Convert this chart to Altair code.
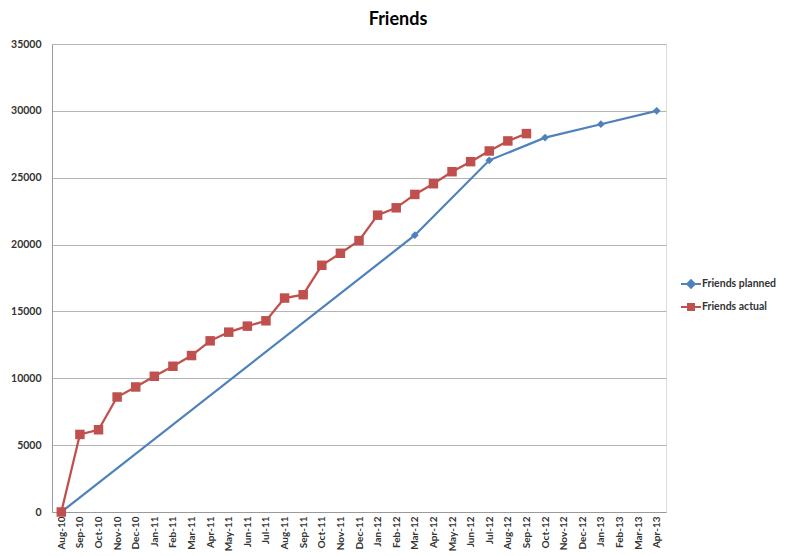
import altair as alt
import pandas as pd

months = ["Aug-10", "Sep-10", "Oct-10", "Nov-10", "Dec-10",
          "Jan-11", "Feb-11", "Mar-11", "Apr-11", "May-11", "Jun-11", "Jul-11",
          "Aug-11", "Sep-11", "Oct-11", "Nov-11", "Dec-11",
          "Jan-12", "Feb-12", "Mar-12", "Apr-12", "May-12", "Jun-12", "Jul-12",
          "Aug-12", "Sep-12", "Oct-12", "Nov-12", "Dec-12",
          "Jan-13", "Feb-13", "Mar-13", "Apr-13"]

planned_months = ["Aug-10", "Mar-12", "Jul-12", "Oct-12", "Jan-13", "Apr-13"]
planned_values = [0, 20700, 26300, 28000, 29000, 30000]

actual_months = months[:26]
actual_values = [0, 5800, 6150, 8600, 9350, 10150, 10900, 11700, 12800, 13450,
                 13900, 14300, 16000, 16250, 18450, 19350, 20300, 22200, 22750,
                 23750, 24550, 25450, 26200, 27000, 27750, 28300]

series_names = ["Friends planned", "Friends actual"]
series_colors = ["#4F81BD", "#C0504D"]
legend_shapes = ["M-2,0H2M0,-0.75L0.75,0L0,0.75L-0.75,0Z",
                 "M-2,0H2M-0.6,-0.6H0.6V0.6H-0.6Z"]

df = pd.concat([
    pd.DataFrame({"series": series_names[0], "month": planned_months, "value": planned_values}),
    pd.DataFrame({"series": series_names[1], "month": actual_months, "value": actual_values}),
], ignore_index=True)

FONT = "Lato"

x_enc = alt.X("month:O", sort=months,
              scale=alt.Scale(type="point", padding=0.5, domain=months),
              axis=alt.Axis(title=None, labelAngle=-90, ticks=False, grid=False,
                            domainColor="#9a9a9a", labelPadding=4,
                            labelFontSize=10, labelFont=FONT, labelFontWeight="bold",
                            labelColor="#333333"))
y_enc = alt.Y("value:Q",
              scale=alt.Scale(domain=[0, 35000], nice=False),
              axis=alt.Axis(title=None, values=list(range(0, 35001, 5000)), format="d",
                            ticks=False, grid=True, gridColor="#b4b4b4",
                            domainColor="#9a9a9a", labelPadding=11,
                            labelFontSize=10.5, labelFont=FONT, labelFontWeight="bold",
                            labelColor="#333333"))

base = alt.Chart(df)

def series_layers(name, color, shape, size):
    sub = base.transform_filter(alt.datum.series == name)
    line = sub.mark_line(color=color, strokeWidth=2.25).encode(x=x_enc, y=y_enc)
    pts = sub.mark_point(color=color, filled=True, opacity=1, shape=shape, size=size).encode(x=x_enc, y=y_enc)
    return line, pts

l1, p1 = series_layers(series_names[0], series_colors[0], "diamond", 60)
l2, p2 = series_layers(series_names[1], series_colors[1], "square", 90)

leg_kw = dict(title=None, orient="none", legendX=633, legendY=234)
legend_layer = base.mark_point(filled=True, size=0, strokeWidth=0, opacity=1,
                               fillOpacity=1, strokeOpacity=1).encode(
    x=x_enc, y=y_enc,
    color=alt.Color("series:N",
                    scale=alt.Scale(domain=series_names, range=series_colors),
                    legend=alt.Legend(symbolSize=100, symbolStrokeWidth=2, symbolOpacity=1,
                                      labelOffset=5, rowPadding=8, padding=0,
                                      labelFontSize=10.5, labelFont=FONT,
                                      labelFontWeight="bold", labelColor="#333333",
                                      **leg_kw)),
    stroke=alt.Stroke("series:N",
                      scale=alt.Scale(domain=series_names, range=series_colors),
                      legend=alt.Legend(**leg_kw)),
    shape=alt.Shape("series:N",
                    scale=alt.Scale(domain=series_names, range=legend_shapes),
                    legend=alt.Legend(**leg_kw)),
)

chart = alt.layer(l1, p1, l2, p2, legend_layer).properties(
    width=614, height=468,
    autosize=alt.AutoSizeParams(type="none"),
    padding={"left": 44, "top": 36, "right": 111, "bottom": 40},
    title=alt.TitleParams("Friends", font=FONT, fontSize=18, fontWeight="bold",
                          color="#000000", anchor="middle", dx=39, offset=10),
).configure_view(stroke=None).configure(background="white")

chart.save("out.html", embed_options={"renderer": "svg", "actions": False})
